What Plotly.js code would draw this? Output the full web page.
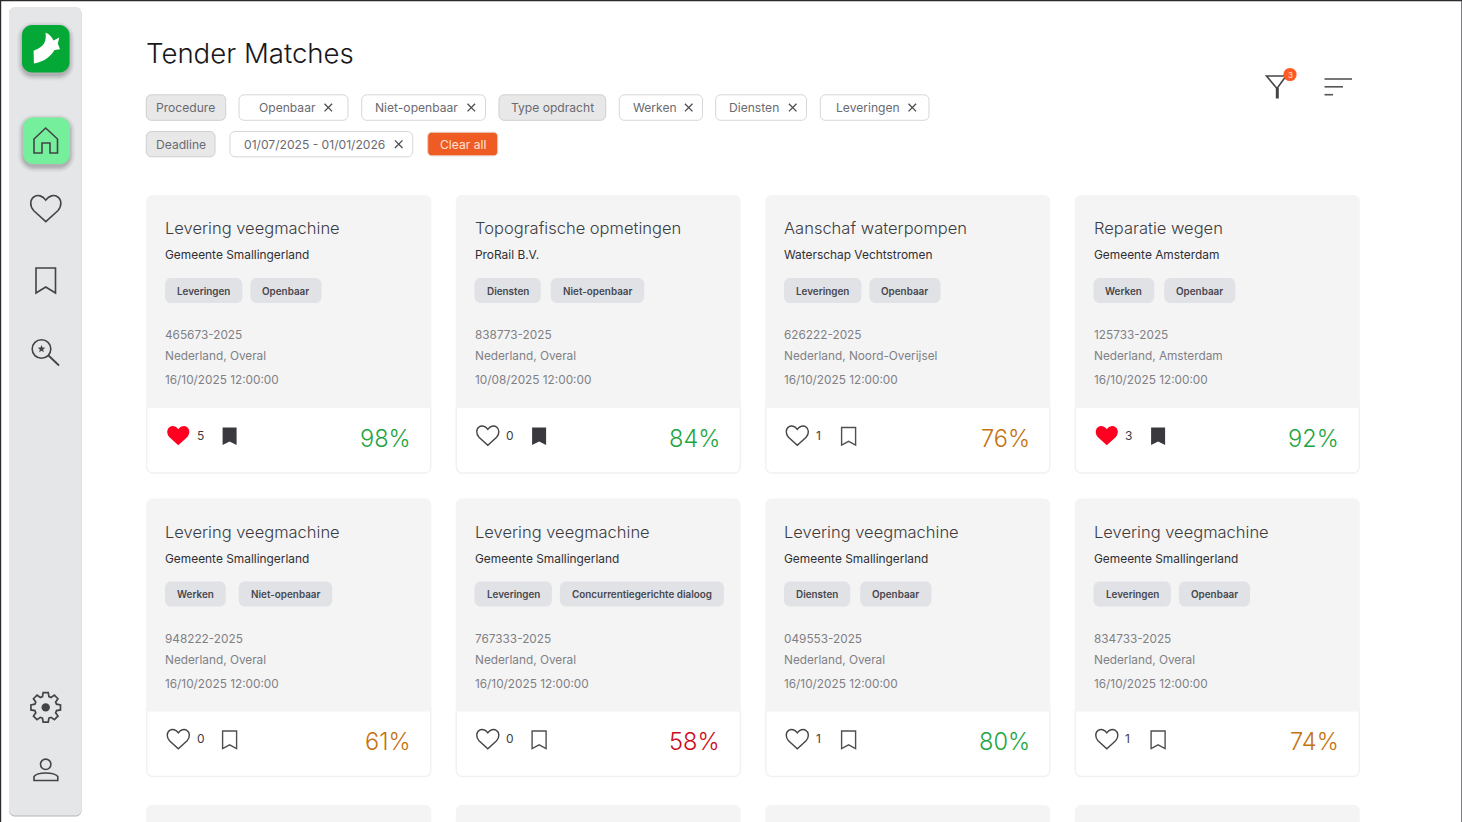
<!DOCTYPE html>
<html><head><meta charset="utf-8">
<script src="https://cdn.plot.ly/plotly-3.0.1.min.js"></script>
<style>html,body{margin:0;padding:0;background:#fff}#p{width:1462px;height:822px}</style></head>
<body><div id="p"></div>
<script>
// ---- content ----
const pageTitle = "Tender Matches";
const filterLabels = ["Procedure","Openbaar","Niet-openbaar","Type opdracht","Werken","Diensten","Leveringen","Deadline","01/07/2025 - 01/01/2026"];
const filterHeads = ["Procedure","Type opdracht","Deadline"];
const clearLabel = "Clear all";
const filterCount = "3";
const titles = ["Levering veegmachine","Topografische opmetingen","Aanschaf waterpompen","Reparatie wegen","Levering veegmachine","Levering veegmachine","Levering veegmachine","Levering veegmachine"];
const orgs = ["Gemeente Smallingerland","ProRail B.V.","Waterschap Vechtstromen","Gemeente Amsterdam","Gemeente Smallingerland","Gemeente Smallingerland","Gemeente Smallingerland","Gemeente Smallingerland"];
const typeTags = ["Leveringen","Diensten","Leveringen","Werken","Werken","Leveringen","Diensten","Leveringen"];
const procTags = ["Openbaar","Niet-openbaar","Openbaar","Openbaar","Niet-openbaar","Concurrentiegerichte dialoog","Openbaar","Openbaar"];
const refs = ["465673-2025","838773-2025","626222-2025","125733-2025","948222-2025","767333-2025","049553-2025","834733-2025"];
const places = ["Nederland, Overal","Nederland, Overal","Nederland, Noord-Overijsel","Nederland, Amsterdam","Nederland, Overal","Nederland, Overal","Nederland, Overal","Nederland, Overal"];
const deadlines = ["16/10/2025 12:00:00","10/08/2025 12:00:00","16/10/2025 12:00:00","16/10/2025 12:00:00","16/10/2025 12:00:00","16/10/2025 12:00:00","16/10/2025 12:00:00","16/10/2025 12:00:00"];
const likes = [5,0,1,3,0,0,1,1];
const liked = [true,false,false,true,false,false,false,false];
const saved = [true,true,false,true,false,false,false,false];
const scores = [98,84,76,92,61,58,80,74];

// ---- page geometry, separate from the content ----
// left edge, right edge, text start (or centre for heading chips), cross centre, top, bottom
const chipBoxes = [
  [146.3,225.7,185.7,0,94.8,120.3],
  [239,348,257.6,328.3,94.8,120.3],
  [361.7,485.5,374.3,471.3,94.8,120.3],
  [499,605.7,552.3,0,94.8,120.3],
  [619.3,702.5,631.7,688.7,94.8,120.3],
  [715.7,806.5,728.2,792.7,94.8,120.3],
  [820.3,929,834.9,912.3,94.8,120.3],
  [146.3,215,180.5,0,131.5,156.8],
  [230,412.7,242.6,398.7,131.5,156.8]
];
const tagGaps = [8,10,8,10,13,8,10,8];

// ---- helpers ----
const FONT = "Inter, 'Noto Sans', sans-serif";
const shapes = [], annotations = [];
const cv = document.createElement('canvas').getContext('2d');
function tw(t, size, w){ cv.font = (w||400)+" "+size+"px Inter"; return cv.measureText(t).width; }
function rr(x0,y0,x1,y1,r){
  const k=r*0.45;
  return `M ${x0+r} ${y0} L ${x1-r} ${y0} C ${x1-k} ${y0} ${x1} ${y0+k} ${x1} ${y0+r} L ${x1} ${y1-r} C ${x1} ${y1-k} ${x1-k} ${y1} ${x1-r} ${y1} L ${x0+r} ${y1} C ${x0+k} ${y1} ${x0} ${y1-k} ${x0} ${y1-r} L ${x0} ${y0+r} C ${x0} ${y0+k} ${x0+k} ${y0} ${x0+r} ${y0} Z`;
}
function path(d,fill,stroke,w){
  shapes.push({type:'path',xref:'x',yref:'y',path:d,fillcolor:fill||'rgba(0,0,0,0)',
    line:{color:stroke||'rgba(0,0,0,0)',width:stroke?(w||1):0},layer:'above'});
}
function circle(cx,cy,r,fill,stroke,w){
  shapes.push({type:'circle',xref:'x',yref:'y',x0:cx-r,x1:cx+r,y0:cy-r,y1:cy+r,fillcolor:fill||'rgba(0,0,0,0)',
    line:{color:stroke||'rgba(0,0,0,0)',width:stroke?(w||1):0},layer:'above'});
}
function text(t,x,y,size,color,anchor,weight){
  annotations.push({text:t,x:x,y:y,xref:'x',yref:'y',showarrow:false,xanchor:anchor||'left',yanchor:'middle',
    borderpad:0,font:{family:FONT,size:size,color:color,weight:weight||400}});
}
function heart(cx,cy,s,fill,stroke,w){
  const p=(a,b)=>`${cx+a*s} ${cy+b*s}`;
  const d=`M ${p(0,-0.56)} C ${p(-0.2,-0.86)} ${p(-0.55,-0.93)} ${p(-0.75,-0.8)} C ${p(-1.08,-0.6)} ${p(-1.08,-0.15)} ${p(-0.8,0.15)} L ${p(0,0.88)} L ${p(0.8,0.15)} C ${p(1.08,-0.15)} ${p(1.08,-0.6)} ${p(0.75,-0.8)} C ${p(0.55,-0.93)} ${p(0.2,-0.86)} ${p(0,-0.56)} Z`;
  path(d,fill,stroke,w);
}
function bookmark(x0,y0,x1,y1,notch,fill,stroke,w){
  path(`M ${x0} ${y0} L ${x1} ${y0} L ${x1} ${y1} L ${(x0+x1)/2} ${y1-notch} L ${x0} ${y1} Z`,fill,stroke,w);
}
function cross(cx,cy,r){
  path(`M ${cx-r} ${cy-r} L ${cx+r} ${cy+r}`,null,'#4c4c50',1.3);
  path(`M ${cx-r} ${cy+r} L ${cx+r} ${cy-r}`,null,'#4c4c50',1.3);
}
function softShadow(x0,y0,x1,y1,r){
  [[6,.03],[4.5,.05],[3,.07],[1.5,.09]].forEach(([g,a])=>{
    shapes.push({type:'path',xref:'x',yref:'y',path:rr(x0-g+1,y0-g+3,x1+g-1,y1+g+2,r+g),
      fillcolor:`rgba(0,0,0,${a})`,line:{width:0},layer:'above'});
  });
}

// ---- page frame ----
path('M 0 0 L 1462 0',null,'#2b2b2e',2.4);
path('M 0 0 L 0 822',null,'#2b2b2e',2.4);
path('M 1462 0 L 1462 822',null,'#2b2b2e',1.2);

// ---- sidebar ----
path(rr(9,7.5,81.5,816.5,6),'#b4b5b8');
path(rr(9,7,81.5,815.5,6),'#e5e6e8');
softShadow(22,25,69.5,72.5,10);
path(rr(22,25,69.5,72.5,10),'#04a836');
path('M 33.6 50.7 C 38 49 42.5 46.5 44.3 43 C 46 39.5 46 36 45.5 32.7 C 49 33.5 52 37 53.5 40.5 L 59.3 37.5 L 57.8 43.5 L 60 49.3 L 54.5 50 C 51 56 44 62 33.9 63.5 Z','#ffffff');
softShadow(23,117.5,70,164,10);
path(rr(23,117.5,70,164,10),'#75ef9b');
path('M 34 139 L 45.7 128 L 57.5 139 L 57.5 153 L 50 153 L 50 143 L 42 143 L 42 153 L 34 153 Z',null,'#444448',1.6);
heart(45.8,208.5,15,null,'#444448',1.6);
bookmark(36,268,55.5,293,6,null,'#444448',1.6);
circle(41.5,349,9.3,null,'#444448',1.6);
path('M 48.5 355.5 L 59 365.5',null,'#444448',1.8);
(function(){let d='';for(let i=0;i<10;i++){const r=i%2?1.7:4,a=-Math.PI/2+i*Math.PI/5;d+=(i?'L ':'M ')+(41.5+r*Math.cos(a))+' '+(349+r*Math.sin(a))+' ';}path(d+'Z','#444448');})();
(function(){ // gear
  const cx=45.7,cy=707.4;let d='';
  for(let i=0;i<8;i++){const a=i*Math.PI/4-Math.PI/2;
    [[-0.29,11.3],[-0.17,15],[0.17,15],[0.29,11.3]].forEach(o=>{
      d+=(d?'L ':'M ')+(cx+o[1]*Math.cos(a+o[0]))+' '+(cy+o[1]*Math.sin(a+o[0]))+' ';
    });
  }
  path(d+'Z',null,'#444448',1.7);
  circle(cx,cy,4.2,'#444448');
})();
circle(45.7,764.3,5.2,null,'#444448',1.6);
path('M 34 780.5 L 34 776.5 C 36 773.7 41 773 45.7 773 C 50.5 773 55.5 773.7 57.8 776.5 L 57.8 780.5 Z',null,'#444448',1.6);

// ---- header ----
text(pageTitle,145.2,53.3,27.6,'#18181b','left',300);
filterLabels.forEach((l,i)=>{
  const b=chipBoxes[i], cy=(b[4]+b[5])/2;
  if(filterHeads.includes(l)){
    path(rr(b[0],b[4],b[1],b[5],5),'#e8e8e9','#cfcfd3',1);
    text(l,b[2],cy,12.1,'#6a6a70','center');
  } else {
    path(rr(b[0],b[4],b[1],b[5],5),'#ffffff','#d6d6dc',1);
    text(l,b[2],cy,12.1,'#6a6a70','left');
    cross(b[3],cy,3.8);
  }
});
path(rr(427.7,132.3,497.7,155.8,4),'#ee5c24','#e8d0c6',1);
text(clearLabel,462.8,144,12.1,'#ffe3d6','center');

// filter & sort icons
path('M 1266.5 76 L 1286 76 L 1277 88.5 Z',null,'#444448',1.6);
path('M 1277.3 88 L 1277.3 98.5',null,'#444448',3);
circle(1290,74.5,6.6,'#ff5a24');
text(filterCount,1290,74.5,8,'#ffe3d6','center');
path('M 1324.5 79 L 1352 79',null,'#555558',1.6);
path('M 1324.5 86.8 L 1343 86.8',null,'#555558',1.6);
path('M 1324.5 94.7 L 1333 94.7',null,'#555558',1.6);

// ---- cards ----
const COLS=4, CW=285, STEP=309.5, X0=146, ROWS=[195,498.5];
function scoreColor(s){ return s>=80?'#1ea53f':(s>=60?'#c4730f':'#cc0a1a'); }
titles.forEach((t,i)=>{
  const col=i%COLS, row=Math.floor(i/COLS);
  const x=X0+col*STEP+0.3, y=ROWS[row], lx=x+18;
  path(rr(x+0.5,y+205,x+CW-0.5,y+278,6),'#ffffff','#f1f1f2',1.4);
  path(`M ${x} ${y+213} L ${x} ${y+6} C ${x} ${y+3} ${x+3} ${y} ${x+6} ${y} L ${x+CW-6} ${y} C ${x+CW-3} ${y} ${x+CW} ${y+3} ${x+CW} ${y+6} L ${x+CW} ${y+213} Z`,'#f4f4f5');
  text(t,lx,y+33,16.5,'#3c3c40','left',300);
  text(orgs[i],lx,y+59.7,11.9,'#2f2f33');
  let tx=x+18.7;
  [typeTags[i],procTags[i]].forEach(tag=>{
    const W=tw(tag,9.9,600)+24;
    path(rr(tx,y+83,tx+W,y+108,6),'#e1e2e5');
    text(tag,tx+W/2,y+95.8,9.9,'#47474f','center',600);
    tx+=W+tagGaps[i];
  });
  text(refs[i],lx,y+140,11.8,'#808084');
  text(places[i],lx,y+161,11.8,'#808084');
  text(deadlines[i],lx,y+185.3,11.8,'#808084');
  heart(x+32,y+240.5,11, liked[i]?'#ff0020':null, liked[i]?null:'#444448', 1.4);
  text(String(likes[i]),x+49.3,y+240.2,12,'#3c3c40');
  bookmark(x+76.3,y+232.5,x+90.3,y+250,3.6,saved[i]?'#3a3a3e':null,saved[i]?null:'#505054',1.4);
  text(scores[i]+'%',x+265.2,y+243,23.6,scoreColor(scores[i]),'right',300);
});
// third row, cut by the window
[0,1,2,3].forEach(c=>{ const x=X0+c*STEP+0.3; path(rr(x,805,x+CW,880,6),'#f4f4f5'); });

Plotly.newPlot('p',[{x:[0],y:[0],type:'scatter',mode:'markers',marker:{opacity:0},hoverinfo:'skip',showlegend:false}],{
  width:1462,height:822,margin:{l:0,r:0,t:0,b:0,pad:0},paper_bgcolor:'#ffffff',plot_bgcolor:'#ffffff',
  xaxis:{range:[0,1462],visible:false,fixedrange:true},
  yaxis:{range:[822,0],visible:false,fixedrange:true},
  shapes:shapes,annotations:annotations,showlegend:false
},{displayModeBar:false,staticPlot:true});
</script></body></html>
